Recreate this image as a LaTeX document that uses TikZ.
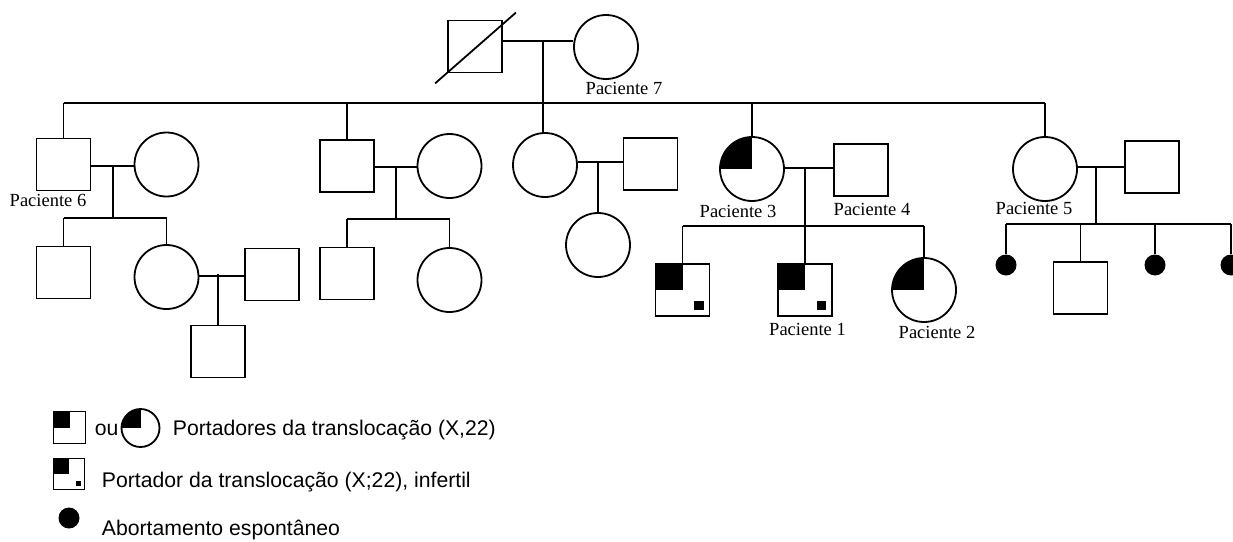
\documentclass[tikz,border=0pt]{standalone}
\usepackage{fontspec}
\setmainfont{Liberation Serif}
\newfontfamily\legfont{Liberation Sans}
\usetikzlibrary{calc}
\begin{document}
\begin{tikzpicture}[x=1pt,y=-1pt, line width=1.8pt,
 sq/.style={draw, rectangle, minimum width=54pt, minimum height=52pt, inner sep=0pt},
 ci/.style={draw, circle, minimum size=64pt, inner sep=0pt},
 ab/.style={fill, circle, minimum size=21pt, inner sep=0pt},
 carrier/.style={path picture={\fill (path picture bounding box.north west) rectangle (path picture bounding box.center);}},
 infertile/.style={path picture={\fill (path picture bounding box.north west) rectangle (path picture bounding box.center);
   \fill ($(path picture bounding box.north west)!0.72!(path picture bounding box.south east)$) rectangle ($(path picture bounding box.north west)!0.89!(path picture bounding box.south east)$);}},
 lab/.style={font=\fontsize{18.5}{20}\selectfont, inner sep=0pt},
 leg/.style={font=\legfont\fontsize{21.2}{25}\selectfont, anchor=west, inner sep=0pt}
]
\useasboundingbox (0,0) rectangle (1233,541);

% Generation I
\node[sq] (gf) at (475,46.5) {};
\node[ci] (gm) at (606,47) {};
\node[lab] (l7) at (624,88) {Paciente 7};
\draw ($(gf.south west)+(-12,10)$) -- ($(gf.north east)+(13,-7)$);

% Generation II
\node[sq] (p6) at (63.5,164.5) {};
\node[ci] (w6) at (166.5,164.5) {};
\node[lab] (l6) at (48,200) {Paciente 6};
\node[sq] (s2) at (347,166) {};
\node[ci] (w2) at (449.5,166) {};
\node[ci] (d3) at (545,165) {};
\node[sq] (h3) at (650.5,164) {};
\node[ci,carrier] (p3) at (752,169) {};
\node[lab] (l3) at (738,211) {Paciente 3};
\node[sq] (p4) at (861,170) {};
\node[lab] (l4) at (872,209) {Paciente 4};
\node[ci] (p5) at (1045,169) {};
\node[lab] (l5) at (1034,208) {Paciente 5};
\node[sq] (h5) at (1152,167) {};

% Generation III
\node[sq] (s6a) at (63.5,272.5) {};
\node[ci] (d6) at (166.5,277) {};
\node[sq] (h6) at (272,274.5) {};
\node[sq] (s6c) at (218,351.5) {};
\node[sq] (s2a) at (347,273.5) {};
\node[ci] (s2b) at (449.5,280) {};
\node[ci] (c3) at (598,245) {};
\node[sq,infertile] (k1) at (682.5,290) {};
\node[sq,infertile] (p1) at (805,290) {};
\node[lab] (l1) at (807.5,329) {Paciente 1};
\node[ci,carrier] (p2) at (924,290) {};
\node[lab] (l2) at (937,332) {Paciente 2};
\node[ab] (a1) at (1006,265) {};
\node[sq] (s5) at (1080.5,288) {};
\node[ab] (a2) at (1155,265) {};
\node[ab] (a3) at (1231,265) {};

% Connectors: generation I
\coordinate (m1) at (543,41);
\coordinate (sib1) at (543,103);
\draw (gf.east |- m1) -- (gm.west |- m1);
\draw (m1) -- (d3.north -| m1);
\draw (p6.north |- sib1) -- (p5.north |- sib1);
\draw (p6.north |- sib1) -- (p6.north);
\draw (s2.north |- sib1) -- (s2.north);
\draw (p3.north |- sib1) -- (p3.north);
\draw (p5.north |- sib1) -- (p5.north);

% Family of Paciente 6
\coordinate (m6) at (113,166);
\coordinate (sib6) at (113,218);
\draw (p6.east |- m6) -- (w6.west |- m6);
\draw (m6) -- (sib6);
\draw (s6a.north |- sib6) -- (d6.north |- sib6);
\draw (s6a.north |- sib6) -- (s6a.north);
\draw (d6.north |- sib6) -- (d6.north);
\coordinate (m6b) at (218,276);
\draw (d6.east |- m6b) -- (h6.west |- m6b);
\draw ([yshift=2pt]m6b) -- (s6c.north);

% Family 2
\coordinate (m2) at (396,167);
\coordinate (sib2) at (396,219);
\draw (s2.east |- m2) -- (w2.west |- m2);
\draw (m2) -- (sib2);
\draw (s2a.north |- sib2) -- (s2b.north |- sib2);
\draw (s2a.north |- sib2) -- (s2a.north);
\draw (s2b.north |- sib2) -- (s2b.north);

% Family 3
\coordinate (m3) at (598,162);
\draw (d3.east |- m3) -- (h3.west |- m3);
\draw (m3) -- (c3.north);

% Family 4
\coordinate (m4) at (805,168);
\coordinate (sib4) at (805,226);
\draw (p3.east |- m4) -- (p4.west |- m4);
\draw (m4) -- (p1.north);
\draw (k1.north |- sib4) -- (p2.north |- sib4);
\draw (k1.north |- sib4) -- (k1.north);
\draw (p2.north |- sib4) -- (p2.north);

% Family 5
\coordinate (m5) at (1096,167);
\coordinate (sib5) at (1096,224);
\draw (p5.east |- m5) -- (h5.west |- m5);
\draw (m5) -- (sib5);
\draw (a1.north |- sib5) -- (a3.north |- sib5);
\draw (a1.north |- sib5) -- (a1.north);
\draw (s5.north |- sib5) -- (s5.north);
\draw (a2.north |- sib5) -- (a2.north);
\draw (a3.north |- sib5) -- (a3.north);

% Legend
\node[sq,carrier,minimum width=32pt,minimum height=32pt] (g1) at (69.5,427.5) {};
\node[leg] (gou) at (94,430) {ou};
\node[ci,carrier,minimum size=38pt] (g1c) at (140.5,428) {};
\node[leg] (gt1) at (172,430) {Portadores da translocação (X,22)};
\node[sq,infertile,minimum width=31pt,minimum height=31pt] (g2) at (69,474) {};
\node[leg] (gt2) at (101,482) {Portador da translocação (X;22), infertil};
\node[ab] (g3) at (69,518) {};
\node[leg] (gt3) at (101,530) {Abortamento espontâneo};
\end{tikzpicture}
\end{document}
